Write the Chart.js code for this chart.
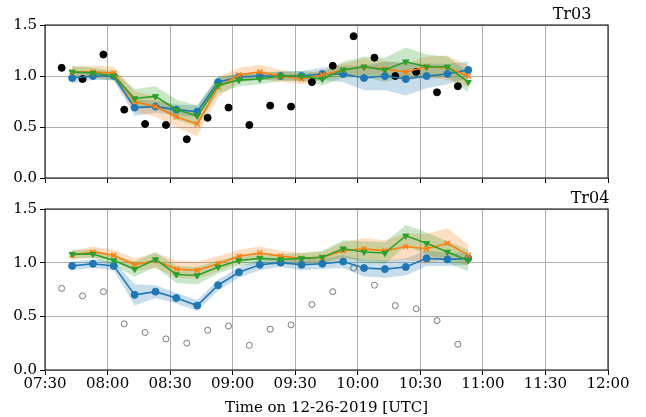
<!DOCTYPE html>
<html><head><meta charset="utf-8">
<script src="https://cdn.jsdelivr.net/npm/chart.js@4"></script>
<style>
body{margin:0;background:#fff;width:646px;height:417px;position:relative;overflow:hidden}
.c{position:absolute;left:0}
</style></head>
<body>
<div class="c" style="top:0;width:646px;height:190px"><canvas id="top"></canvas></div>
<div class="c" style="top:190px;width:646px;height:227px"><canvas id="bot"></canvas></div>
<script>
// minutes after 07:30
const modelTimes = [13,23,33,43,53,63,73,83,93,103,113,123,133,143,153,163,173,183,193,203];
const obsTimes = [8,18,28,38,48,58,68,78,88,98,108,118,128,138,148,158,168,178,188,198];
const xTicks = ['07:30','08:00','08:30','09:00','09:30','10:00','10:30','11:00','11:30','12:00'];

// Tr03
const obs03 = [1.08,0.97,1.21,0.67,0.53,0.52,0.38,0.59,0.69,0.52,0.71,0.70,0.94,1.10,1.39,1.18,1.00,1.04,0.84,0.90];
const blue03 = [0.98,1.0,1.0,0.69,0.70,0.67,0.65,0.94,0.99,1.0,1.0,1.0,1.02,1.02,0.98,1.0,0.97,1.0,1.02,1.06];
const orange03 = [1.04,1.04,1.03,0.75,0.70,0.60,0.53,0.89,1.01,1.04,1.0,0.97,1.01,1.06,1.09,1.07,1.04,1.09,1.08,1.0];
const green03 = [1.04,1.03,1.0,0.78,0.80,0.67,0.61,0.91,0.96,0.97,1.0,1.0,0.97,1.06,1.09,1.06,1.14,1.09,1.09,0.94];
const blueSpread03 = [0.05,0.04,0.04,0.08,0.06,0.05,0.06,0.05,0.04,0.04,0.04,0.05,0.06,0.08,0.12,0.14,0.16,0.12,0.10,0.08];
const orangeSpread03 = [0.05,0.06,0.06,0.10,0.10,0.10,0.12,0.10,0.07,0.07,0.06,0.05,0.05,0.06,0.08,0.08,0.08,0.10,0.12,0.10];
const greenSpread03 = [0.06,0.05,0.05,0.09,0.10,0.10,0.10,0.08,0.06,0.05,0.05,0.05,0.06,0.08,0.10,0.12,0.14,0.12,0.10,0.10];

// Tr04
const obs04 = [0.76,0.69,0.73,0.43,0.35,0.29,0.25,0.37,0.41,0.23,0.38,0.42,0.61,0.73,0.95,0.79,0.60,0.57,0.46,0.24];
const blue04 = [0.97,0.99,0.97,0.70,0.73,0.67,0.60,0.79,0.91,0.98,1.0,0.98,0.99,1.01,0.95,0.94,0.96,1.04,1.03,1.04];
const orange04 = [1.07,1.10,1.07,0.98,1.02,0.94,0.93,0.99,1.06,1.09,1.06,1.04,1.05,1.11,1.13,1.11,1.15,1.13,1.18,1.07];
const green04 = [1.08,1.08,1.02,0.94,1.03,0.89,0.88,0.96,1.02,1.04,1.03,1.04,1.05,1.13,1.10,1.09,1.25,1.18,1.10,1.02];
const blueSpread04 = [0.04,0.04,0.04,0.10,0.06,0.05,0.05,0.05,0.05,0.05,0.04,0.05,0.05,0.06,0.08,0.08,0.08,0.07,0.06,0.06];
const orangeSpread04 = [0.04,0.05,0.05,0.06,0.07,0.08,0.08,0.07,0.06,0.06,0.05,0.05,0.05,0.08,0.10,0.10,0.12,0.14,0.14,0.10];
const greenSpread04 = [0.04,0.04,0.05,0.07,0.07,0.08,0.08,0.06,0.05,0.05,0.05,0.05,0.06,0.08,0.10,0.10,0.10,0.10,0.10,0.10];

const FONT = "'DejaVu Serif', serif";
const BLUE = '#1f77b4', ORANGE = '#ff7f0e', GREEN = '#2ca02c';

function pts(times, vals, off, sign) {
  return times.map((t, i) => ({x: t, y: vals[i] + (off ? sign * off[i] : 0)}));
}
function band(vals, spread, color, order) {
  return [
    {data: pts(modelTimes, vals, spread, -1), borderWidth: 0, pointRadius: 0, fill: false, order},
    {data: pts(modelTimes, vals, spread, 1), borderWidth: 0, pointRadius: 0, fill: '-1', backgroundColor: color, order}
  ];
}
function line(vals, color, style, order, rot) {
  return {data: pts(modelTimes, vals), borderColor: color, backgroundColor: color, borderWidth: 1.6, order,
    pointStyle: style, pointRadius: 3.5, pointRotation: rot || 0, pointBorderWidth: style === 'crossRot' ? 1.5 : 1, fill: false};
}

const frame = {
  id: 'frame',
  afterDraw(chart, args, opts) {
    const a = chart.chartArea, c = chart.ctx;
    c.save();
    c.strokeStyle = '#000'; c.lineWidth = 1;
    c.strokeRect(a.left, a.top, a.right - a.left, a.bottom - a.top);
    c.fillStyle = '#000'; c.font = '16px ' + FONT; c.textAlign = 'center'; c.textBaseline = 'bottom';
    c.fillText(opts.label, opts.x, a.top - 2);
    c.restore();
  }
};

function make(id, obs, obsHollow, b, o, g, bs, os, gs, label, labelX, showX) {
  const datasets = [
    ...band(b, bs, 'rgba(31,119,180,0.25)', 12),
    ...band(o, os, 'rgba(255,127,14,0.25)', 11),
    ...band(g, gs, 'rgba(44,160,44,0.25)', 10),
    {data: pts(obsTimes, obs), showLine: false, pointRadius: obsHollow ? 3 : 3.5, order: 5,
      pointBorderColor: obsHollow ? '#777' : '#000', pointBackgroundColor: obsHollow ? 'rgba(0,0,0,0)' : '#000',
      pointBorderWidth: 1},
    line(b, BLUE, 'circle', 3),
    line(o, ORANGE, 'crossRot', 2),
    line(g, GREEN, 'triangle', 1, 180)
  ];
  new Chart(document.getElementById(id), {
    type: 'line',
    data: {datasets},
    plugins: [frame],
    options: {
      responsive: true, maintainAspectRatio: false, animation: false,
      layout: {padding: showX ? {left: 5, right: 38, top: 19, bottom: 0} : {left: 5, right: 38, top: 25, bottom: 0}},
      plugins: {legend: {display: false}, tooltip: {enabled: false}, frame: {label, x: labelX}},
      scales: {
        x: {type: 'linear', min: 0, max: 270,
          grid: {color: '#b0b0b0', tickLength: 5, tickColor: '#000'},
          border: {display: false},
          ticks: {stepSize: 30, display: showX, color: '#000', font: {family: FONT, size: 15}, padding: 0, maxRotation: 0,
            callback: v => xTicks[v / 30]},
          title: {display: showX, text: 'Time on 12-26-2019 [UTC]', color: '#000', font: {family: FONT, size: 15}, padding: {top: 2, bottom: 0}},
          afterFit: s => { s.height = showX ? 47 : 5; }
        },
        y: {min: 0, max: 1.5,
          grid: {color: '#b0b0b0', tickLength: 5, tickColor: '#000'},
          border: {display: false},
          ticks: {stepSize: 0.5, color: '#000', font: {family: FONT, size: 15}, padding: 3, callback: v => v.toFixed(1)},
          afterFit: s => { s.width = 40; }
        }
      }
    }
  });
}

make('top', obs03, false, blue03, orange03, green03, blueSpread03, orangeSpread03, greenSpread03, 'Tr03', 572, false);
make('bot', obs04, true, blue04, orange04, green04, blueSpread04, orangeSpread04, greenSpread04, 'Tr04', 590, true);
</script>
</body></html>
